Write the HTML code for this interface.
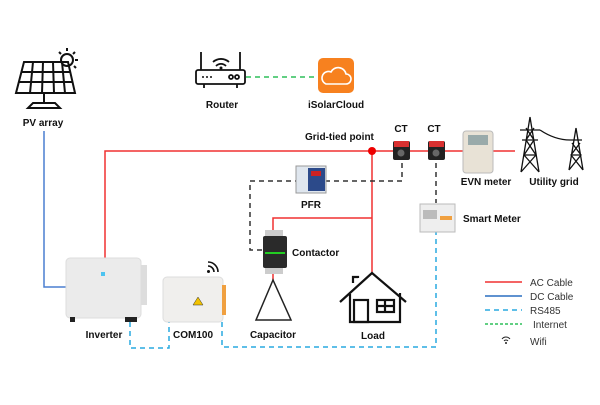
<!DOCTYPE html>
<html><head><meta charset="utf-8"><style>
body{margin:0;background:#fff}
text{font-family:"Liberation Sans",sans-serif;font-weight:bold;font-size:10px;fill:#111}
.l{font-weight:normal;fill:#333}
</style></head><body>
<svg width="600" height="400" viewBox="0 0 600 400" xmlns="http://www.w3.org/2000/svg">
<g fill="none" stroke-width="1.5">
<path d="M44 131V287H66" stroke="#4a7fd0"/>
<path d="M105 258V151H515" stroke="#f03030"/>
<path d="M372 151V272M372 218H273V234M273 270V280" stroke="#f03030"/>
<path d="M300 181H250V250H262M325 181H402V163M436 163V203" stroke="#333" stroke-dasharray="5 4"/>
<path d="M130 322V348H169V322M222 322V347H436V232" stroke="#29aae1" stroke-dasharray="5 4"/>
<path d="M246 77H318" stroke="#2fbf5a" stroke-dasharray="5 4"/>
</g>
<circle cx="372" cy="151" r="4" fill="#e00"/>
<g stroke="#111" stroke-width="2" fill="none">
<path d="M24 62H68L75 93H16Z"/>
<path d="M22 72H70M19 82H72M33 62L30 93M43 62L42 93M53 62L54 93M62 62L65 93"/>
<path d="M44 93V104M28 108H60L55 103H33Z"/>
<circle cx="67" cy="60" r="6"/>
<path d="M67 48V51M78 60H75M75 52L73 54M59 52L61 54M76 68L74 66"/>
</g>
<text x="43" y="126" text-anchor="middle">PV array</text>
<g stroke="#111" stroke-width="1.8" fill="none">
<rect x="196" y="70" width="49" height="14" rx="2"/>
<path d="M201 70V52M240 70V52M204 84V88M237 84V88"/>
<path d="M213 62a12 12 0 0 1 16 0M216 66a7 7 0 0 1 10 0"/>
<circle cx="231" cy="77" r="2"/><circle cx="237" cy="77" r="2"/>
</g>
<circle cx="221" cy="68" r="1.5" fill="#111"/>
<g fill="#111"><circle cx="203" cy="77" r="1"/><circle cx="207" cy="77" r="1"/><circle cx="211" cy="77" r="1"/></g>
<text x="222" y="108" text-anchor="middle">Router</text>
<rect x="318" y="58" width="36" height="35" rx="5" fill="#f7811f"/>
<path d="M326 84h20a5 5 0 0 0 0-10a8 8 0 0 0-15-2a6 6 0 0 0-5 12z" fill="none" stroke="#fff" stroke-width="1.6"/>
<text x="336" y="108" text-anchor="middle">iSolarCloud</text>
<text x="305" y="140">Grid-tied point</text>
<text x="401" y="132" text-anchor="middle">CT</text>
<text x="434" y="132" text-anchor="middle">CT</text>
<rect x="393" y="141" width="17" height="19" rx="2" fill="#222"/><rect x="394" y="141" width="15" height="6" fill="#d83030"/><circle cx="401" cy="153" r="3.5" fill="#666"/>
<rect x="428" y="141" width="17" height="19" rx="2" fill="#222"/><rect x="429" y="141" width="15" height="6" fill="#d83030"/><circle cx="436" cy="153" r="3.5" fill="#666"/>
<rect x="463" y="131" width="30" height="42" rx="3" fill="#e8e2d6" stroke="#bbb"/>
<rect x="468" y="135" width="20" height="10" fill="#9aa"/>
<text x="486" y="185" text-anchor="middle">EVN meter</text>
<g stroke="#111" stroke-width="1.3" fill="none">
<path d="M530 117L521 172M530 117L539 172M524 155H536M526 140H534M521 172L536 155L526 140L534 128M539 172L524 155L534 140L526 128M520 130H540M522 140H538"/>
<path d="M576 128L569 170M576 128L583 170M571 155H581M570 140H582M569 170L581 155L572 143M583 170L571 155L580 143"/>
<path d="M540 130Q555 140 570 140"/>
</g>
<text x="554" y="185" text-anchor="middle">Utility grid</text>
<rect x="296" y="166" width="30" height="27" fill="#dfe6ee" stroke="#999"/>
<rect x="308" y="168" width="17" height="23" fill="#2c4a8a"/>
<rect x="311" y="171" width="10" height="5" fill="#c22"/>
<text x="311" y="208" text-anchor="middle">PFR</text>
<rect x="420" y="204" width="35" height="28" fill="#eee" stroke="#bbb"/>
<rect x="423" y="210" width="14" height="9" fill="#bbb"/>
<rect x="440" y="216" width="12" height="4" fill="#f0a040"/>
<text x="463" y="222">Smart Meter</text>
<rect x="263" y="236" width="24" height="32" rx="2" fill="#2a2a2a"/>
<rect x="265" y="252" width="20" height="2" fill="#2c2"/>
<rect x="265" y="230" width="18" height="6" fill="#ccc"/><rect x="265" y="268" width="18" height="6" fill="#ccc"/>
<text x="292" y="256">Contactor</text>
<path d="M273 280L256 320H291Z" fill="none" stroke="#222" stroke-width="1.5"/>
<text x="273" y="338" text-anchor="middle">Capacitor</text>
<g stroke="#111" stroke-width="2.2" fill="none">
<path d="M340 302L372 273L406 302M350 294V322H400V293M353 283V277H358V278"/>
<rect x="354" y="300" width="14" height="22"/><rect x="377" y="300" width="17" height="12"/>
<path d="M385 300V312M377 306H394"/>
</g>
<text x="373" y="339" text-anchor="middle">Load</text>
<rect x="66" y="258" width="75" height="60" rx="4" fill="#ebebeb" stroke="#ddd"/>
<rect x="141" y="265" width="6" height="40" fill="#ddd"/>
<rect x="101" y="272" width="4" height="4" fill="#4cc3f0"/>
<rect x="70" y="317" width="5" height="5" fill="#222"/><rect x="125" y="317" width="12" height="5" fill="#222"/>
<text x="104" y="338" text-anchor="middle">Inverter</text>
<rect x="163" y="277" width="60" height="45" rx="4" fill="#f0efed" stroke="#ddd"/>
<rect x="222" y="285" width="4" height="30" fill="#f0a040"/>
<path d="M193 305L198 297L203 305Z" fill="#f2c200" stroke="#333" stroke-width="0.5"/>
<text x="193" y="338" text-anchor="middle">COM100</text>
<g stroke="#111" stroke-width="1.6" fill="none"><path d="M208 266a6 6 0 0 1 6 6M208 262a10 10 0 0 1 10 10"/></g>
<circle cx="208.5" cy="271.5" r="1.5" fill="#111"/>
<g stroke-width="1.5"><path d="M485 282H522" stroke="#f03030"/><path d="M485 296H522" stroke="#2a6fc0"/><path d="M485 310H522" stroke="#29aae1" stroke-dasharray="5 4"/><path d="M485 324H522" stroke="#2fbf5a" stroke-dasharray="3 2"/></g>
<text class="l" x="530" y="286">AC Cable</text>
<text class="l" x="530" y="300">DC Cable</text>
<text class="l" x="530" y="314">RS485</text>
<text class="l" x="533" y="328">Internet</text>
<text class="l" x="530" y="345">Wifi</text>
<path d="M502 339a5 5 0 0 1 8 0M504 341a2.5 2.5 0 0 1 4 0" stroke="#222" fill="none" stroke-width="1"/><circle cx="506" cy="343" r="1" fill="#222"/>
</svg>
</body></html>
